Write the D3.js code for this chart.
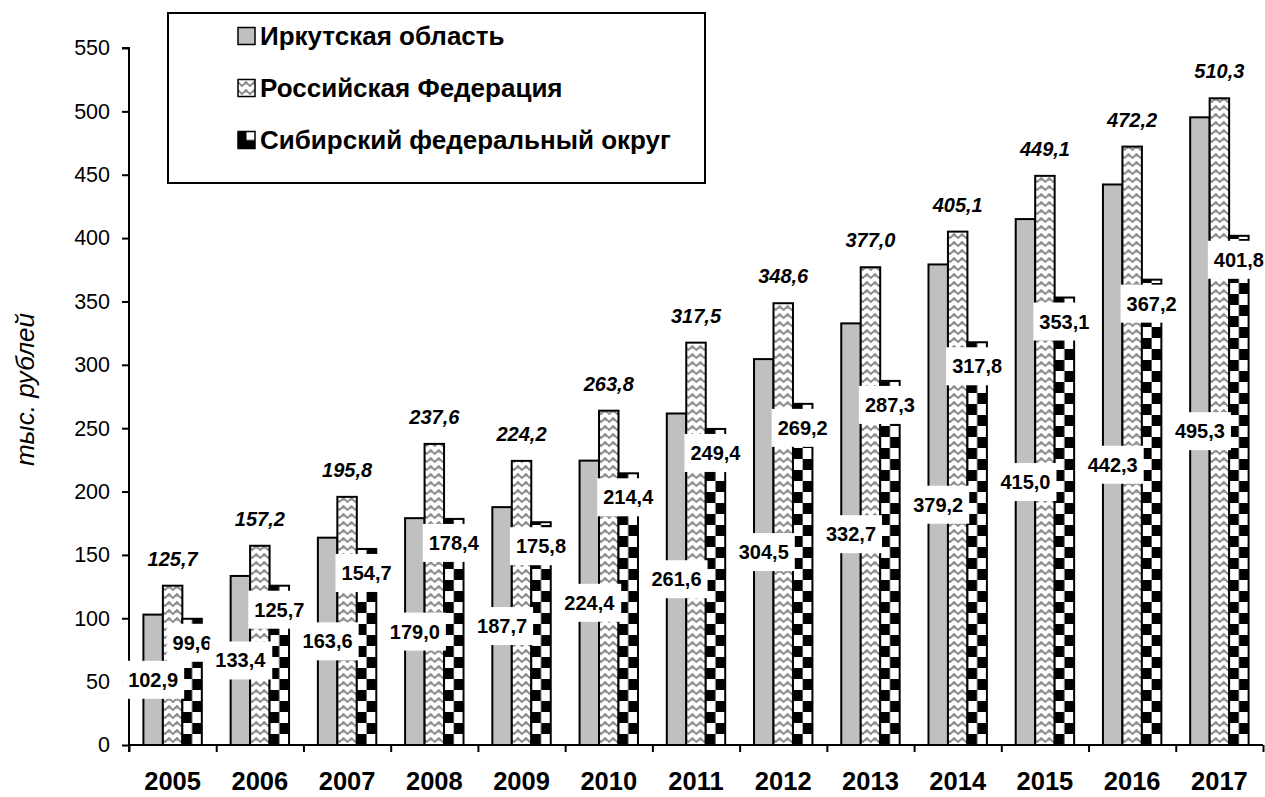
<!DOCTYPE html>
<html>
<head>
<meta charset="utf-8">
<script src="https://cdn.jsdelivr.net/npm/d3@7"></script>
<style>
  body { margin: 0; background: #fff; }
  svg { display: block; font-family: "Liberation Sans", Arial, sans-serif; }
  .tick-y text { font-size: 21.5px; fill: #000; }
  .tick-x text { font-size: 25.5px; font-weight: bold; fill: #000; }
  .lbl { font-size: 20px; font-weight: bold; fill: #000; }
  .lbl-ru { font-size: 20px; font-weight: bold; font-style: italic; fill: #000; }
  .legend text { font-size: 26px; font-weight: bold; fill: #000; }
</style>
</head>
<body>
<div id="chart"></div>
<script>
// data
const years = ["2005", "2006", "2007", "2008", "2009", "2010", "2011", "2012", "2013", "2014", "2015", "2016", "2017"];
const irkutsk = [102.9, 133.4, 163.6, 179.0, 187.7, 224.4, 261.6, 304.5, 332.7, 379.2, 415.0, 442.3, 495.3];
const russia = [125.7, 157.2, 195.8, 237.6, 224.2, 263.8, 317.5, 348.6, 377.0, 405.1, 449.1, 472.2, 510.3];
const siberia = [99.6, 125.7, 154.7, 178.4, 175.8, 214.4, 249.4, 269.2, 287.3, 317.8, 353.1, 367.2, 401.8];
const seriesNames = ["Иркутская область", "Российская Федерация", "Сибирский федеральный округ"];
const yTicks = [0, 50, 100, 150, 200, 250, 300, 350, 400, 450, 500, 550];
const yTitle = "тыс. рублей";

const keys = ["irk", "ru", "sib"];
const seriesValues = { irk: irkutsk, ru: russia, sib: siberia };

const width = 1265, height = 797;
const margin = { top: 48, right: 2, bottom: 52, left: 129 };
const innerWidth = width - margin.left - margin.right;
const innerHeight = height - margin.top - margin.bottom;

const svg = d3.select("#chart").append("svg")
    .attr("width", width)
    .attr("height", height);

const x0 = d3.scaleBand().domain(years).range([0, innerWidth]).padding(0);
const x1 = d3.scaleBand().domain(keys).range([0, x0.bandwidth()])
    .paddingInner(0).paddingOuter(0.74);
const y = d3.scaleLinear().domain([0, 550]).range([innerHeight, 0]);
const bw = x1.bandwidth();

// patterns
const defs = svg.append("defs");

// zigzag weave for Russia
const pRu = defs.append("pattern")
    .attr("id", "pat-ru")
    .attr("patternUnits", "userSpaceOnUse")
    .attr("width", 8).attr("height", 8);
pRu.append("rect").attr("width", 8).attr("height", 8).attr("fill", "#fff");
pRu.append("path")
    .attr("d", "M-1,1 L4,6 L9,1 M-1,-3 L0,-2 M8,-2 L9,-3")
    .attr("fill", "none").attr("stroke", "#808080").attr("stroke-width", 1.6);
pRu.append("path")
    .attr("d", "M0,4 L1,5 M7,5 L8,4")
    .attr("fill", "none").attr("stroke", "#b0b0b0").attr("stroke-width", 1);

// checkerboard for Siberia, one tile per category band so cells line up with the bar
const cellH = 11;
const pSib = defs.append("pattern")
    .attr("id", "pat-sib")
    .attr("patternUnits", "userSpaceOnUse")
    .attr("width", x0.step()).attr("height", cellH * 2)
    .attr("patternTransform", `translate(0,${innerHeight})`);
pSib.append("rect").attr("width", x0.step()).attr("height", cellH * 2).attr("fill", "#fff");
pSib.append("rect").attr("x", x1("sib") + bw / 2).attr("y", 0)
    .attr("width", bw / 2).attr("height", cellH).attr("fill", "#000");
pSib.append("rect").attr("x", x1("sib")).attr("y", cellH)
    .attr("width", bw / 2).attr("height", cellH).attr("fill", "#000");

// small checker for the legend key
const pSibKey = defs.append("pattern")
    .attr("id", "pat-sib-key")
    .attr("patternUnits", "objectBoundingBox")
    .attr("patternContentUnits", "objectBoundingBox")
    .attr("width", 1).attr("height", 1);
pSibKey.append("rect").attr("width", 1).attr("height", 1).attr("fill", "#000");
pSibKey.append("rect").attr("x", 0.5).attr("y", 0).attr("width", 0.5).attr("height", 0.5).attr("fill", "#fff");

const fills = { irk: "#c0c0c0", ru: "url(#pat-ru)", sib: "url(#pat-sib)" };
const keyFills = { irk: "#c0c0c0", ru: "url(#pat-ru)", sib: "url(#pat-sib-key)" };

const g = svg.append("g").attr("transform", `translate(${margin.left},${margin.top})`);

// bars
const groups = g.selectAll("g.year")
    .data(years)
    .join("g")
    .attr("class", "year")
    .attr("transform", d => `translate(${x0(d)},0)`);

groups.selectAll("rect")
    .data((d, i) => keys.map(k => ({ key: k, year: d, i: i, value: seriesValues[k][i] })))
    .join("rect")
    .attr("x", d => x1(d.key))
    .attr("y", d => y(d.value))
    .attr("width", bw)
    .attr("height", d => innerHeight - y(d.value))
    .attr("fill", d => fills[d.key])
    .attr("stroke", "#000")
    .attr("stroke-width", 2);

// y axis
const yAxis = g.append("g")
    .attr("class", "tick-y")
    .call(d3.axisLeft(y).tickValues(yTicks).tickSize(7).tickPadding(12).tickFormat(d3.format("d")));
yAxis.select(".domain").attr("stroke-width", 2).attr("d", `M-7,0H0V${innerHeight + 7}`);
yAxis.selectAll(".tick line").attr("stroke-width", 2);

// x axis: labels at band centres, ticks at band edges
const xAxis = g.append("g")
    .attr("class", "tick-x")
    .attr("transform", `translate(0,${innerHeight})`)
    .call(d3.axisBottom(x0).tickSize(0).tickPadding(27));
xAxis.select(".domain").remove();

const xEdge = d3.scaleLinear().domain([0, years.length]).range([0, innerWidth]);
const xEdgeAxis = g.append("g")
    .attr("transform", `translate(0,${innerHeight})`)
    .call(d3.axisBottom(xEdge).ticks(years.length).tickSize(7).tickFormat(""));
xEdgeAxis.select(".domain").attr("stroke-width", 2).attr("d", `M0,0H${innerWidth}`);
xEdgeAxis.selectAll(".tick line").attr("stroke-width", 2);

// y title
svg.append("text")
    .attr("transform", `translate(25,${margin.top + innerHeight * 0.49}) rotate(-90)`)
    .attr("text-anchor", "middle")
    .attr("dominant-baseline", "central")
    .style("font-size", "26px")
    .style("font-style", "italic")
    .text(yTitle);

// data labels
const fmt = v => d3.format(".1f")(v).replace(".", ",");
const labels = g.append("g");

function boxedLabel(cx, cy, text) {
    const t = labels.append("g");
    const txt = t.append("text")
        .attr("class", "lbl")
        .attr("x", cx).attr("y", cy)
        .attr("text-anchor", "middle")
        .attr("dominant-baseline", "central")
        .text(text);
    const bb = txt.node().getBBox();
    t.insert("rect", "text")
        .attr("x", bb.x - 6).attr("y", cy - 19)
        .attr("width", bb.width + 12).attr("height", 38)
        .attr("fill", "#fff");
}

years.forEach((yr, i) => {
    const bx = x0(yr);
    // Irkutsk: centre of the bar
    boxedLabel(bx + x1("irk") + bw / 2, y(irkutsk[i] / 2), fmt(irkutsk[i]));
    // Siberia: inside end
    boxedLabel(bx + x1("sib") + bw / 2, y(siberia[i]) + 24, fmt(siberia[i]));
    // Russia: outside end, italic
    labels.append("text")
        .attr("class", "lbl-ru")
        .attr("x", bx + x1("ru") + bw / 2)
        .attr("y", y(russia[i]) - 27)
        .attr("text-anchor", "middle")
        .attr("dominant-baseline", "central")
        .text(fmt(russia[i]));
});

// legend
const legend = svg.append("g").attr("class", "legend");
legend.append("rect")
    .attr("x", 168).attr("y", 13)
    .attr("width", 537).attr("height", 170)
    .attr("fill", "#fff").attr("stroke", "#000").attr("stroke-width", 2);

const item = legend.selectAll("g.item")
    .data(keys)
    .join("g")
    .attr("class", "item")
    .attr("transform", (d, i) => `translate(238,${36 + i * 52})`);
item.append("rect")
    .attr("x", 0).attr("y", -8.5)
    .attr("width", 17).attr("height", 17)
    .attr("fill", d => keyFills[d])
    .attr("stroke", "#000").attr("stroke-width", 1.5);
item.append("text")
    .attr("x", 22).attr("y", 0)
    .attr("dominant-baseline", "central")
    .text((d, i) => seriesNames[i]);
</script>
</body>
</html>
